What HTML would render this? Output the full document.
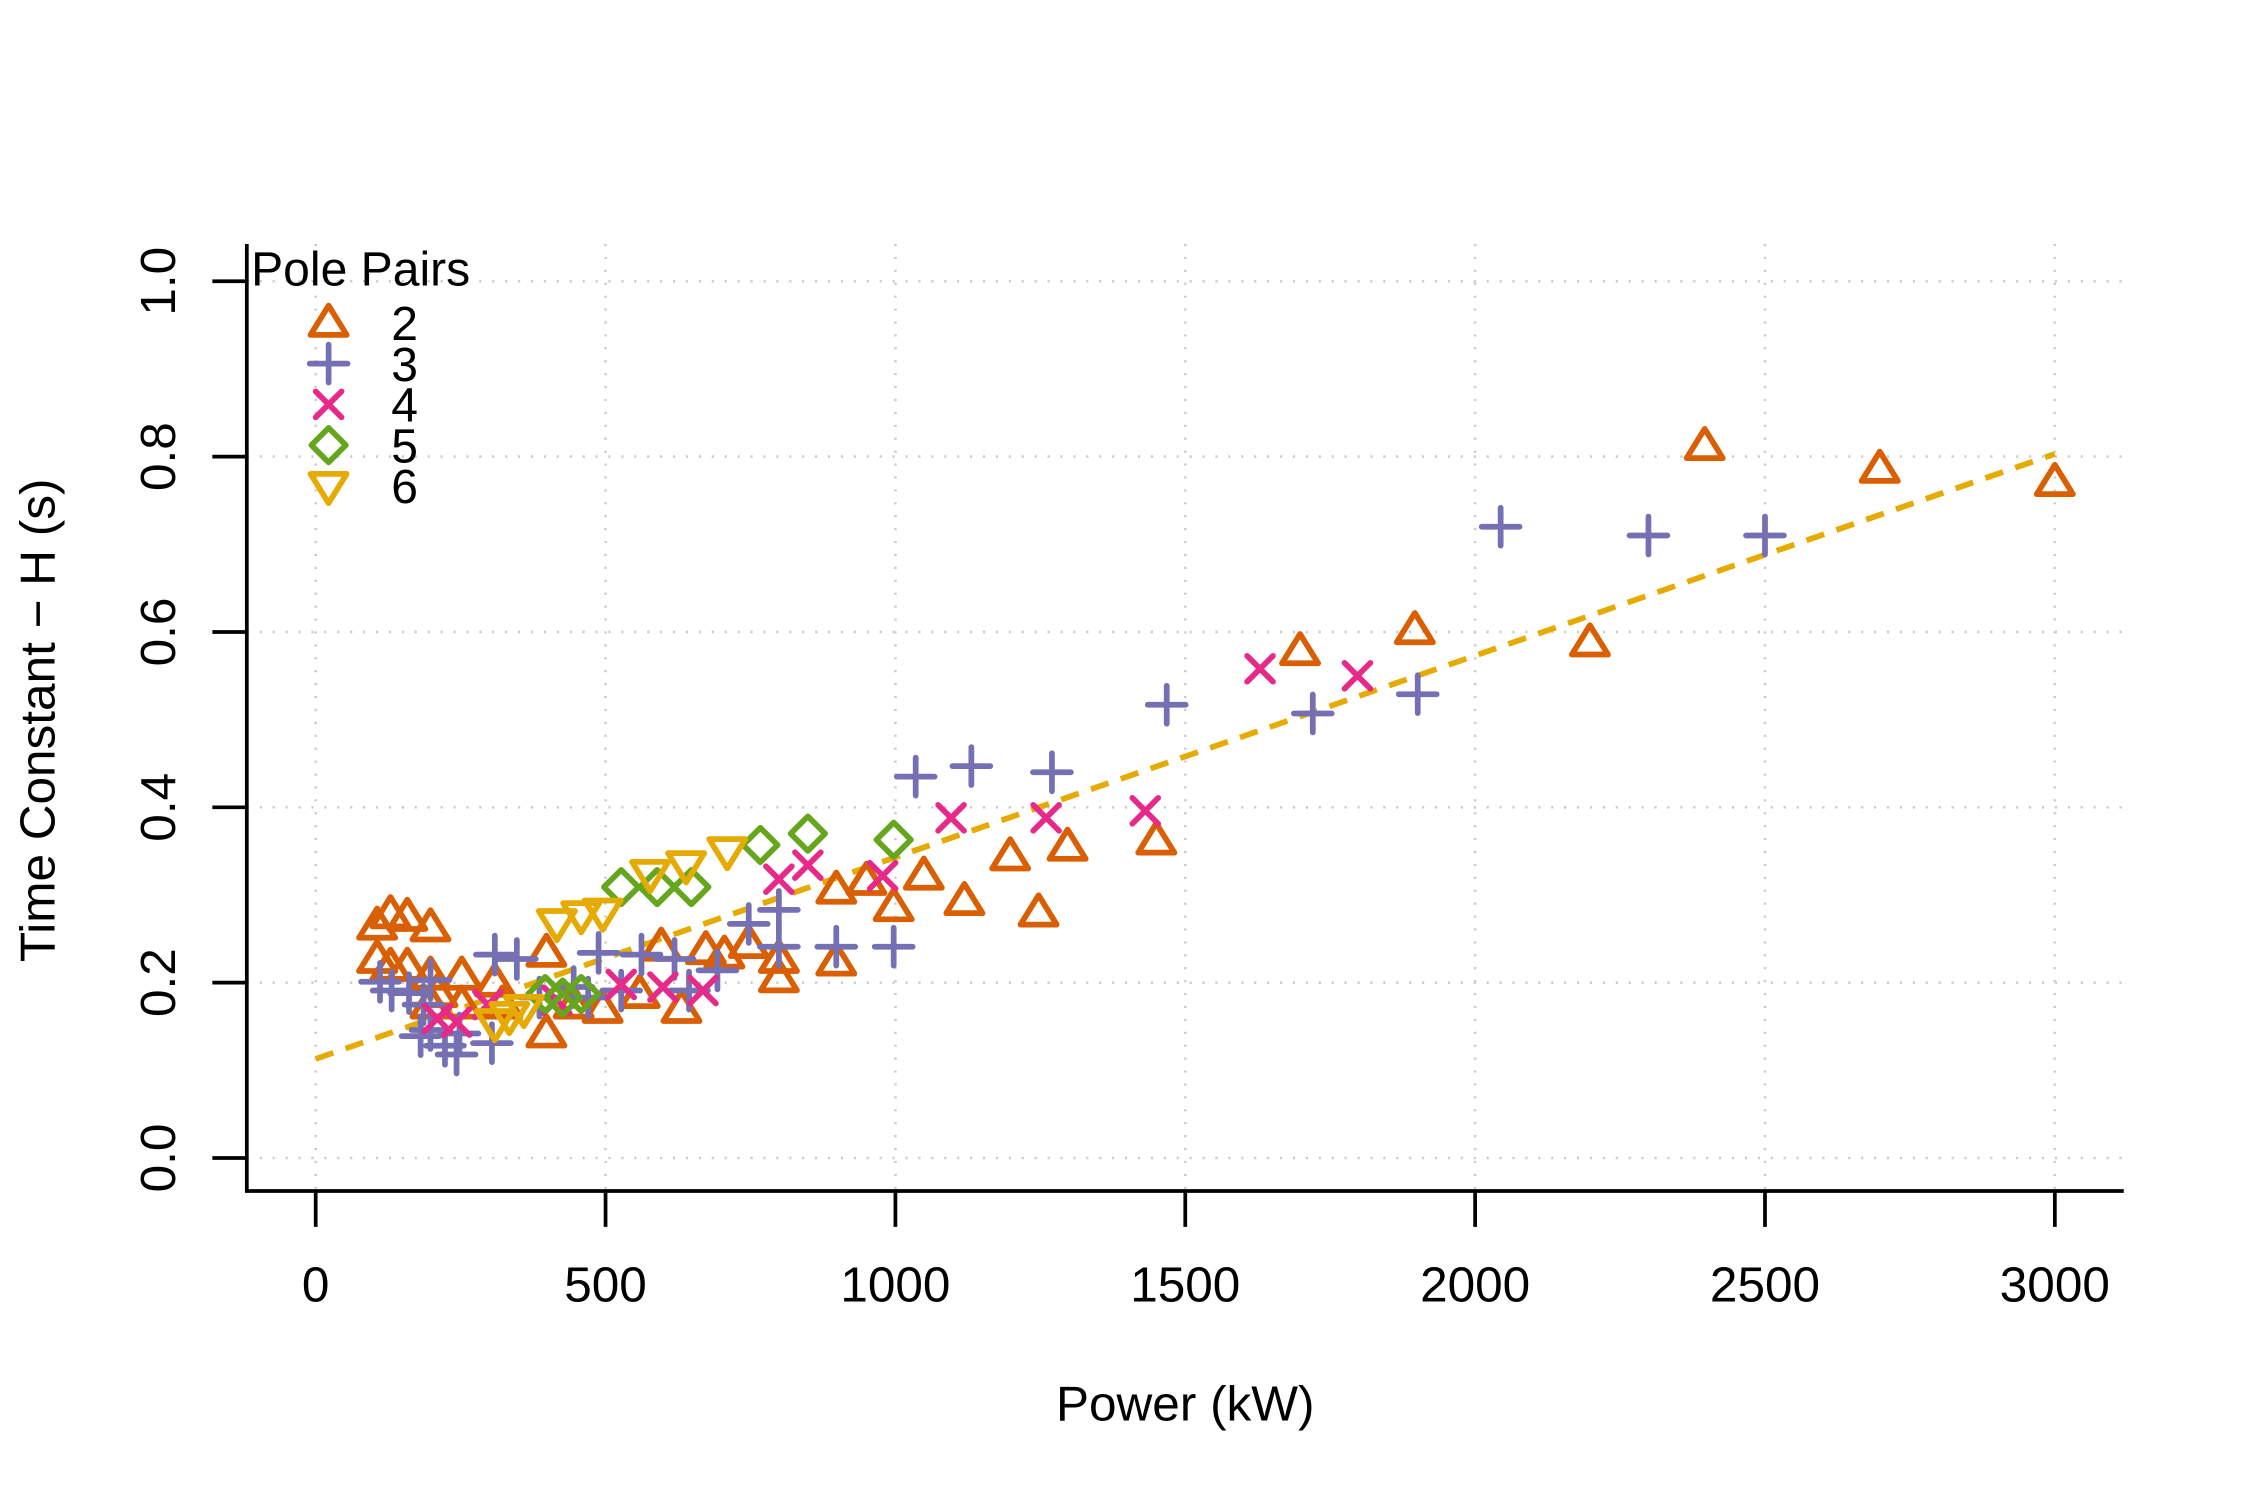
<!DOCTYPE html>
<html><head><meta charset="utf-8"><style>
html,body{margin:0;padding:0;background:#fff;}
svg{display:block;font-family:"Liberation Sans",Arial,sans-serif;}
</style></head><body>
<svg id="chart" width="2250" height="1500" viewBox="0 0 1568 1045.33" xmlns="http://www.w3.org/2000/svg">
<rect width="1568" height="1045.33" fill="#fff"/>
<g id="grid"></g>
<g id="axes"></g>
<g id="trend"></g>
<g id="points"></g>
<g id="legend"></g>
<text x="826" y="990" font-size="34.5" text-anchor="middle">Power (kW)</text>
<text transform="translate(38,502) rotate(-90)" font-size="34.5" text-anchor="middle">Time Constant − H (s)</text>
</svg>
<script>
const xTicks = [0,500,1000,1500,2000,2500,3000];
const yTicks = [0.0,0.2,0.4,0.6,0.8,1.0];
const yTickLabels = ["0.0","0.2","0.4","0.6","0.8","1.0"];
const seriesNames = ["2","3","4","5","6"];
const p2x = [106,129,158,198,106,129,158,198,252,210,198,252,309,322,398,398,445,495,559,596,631,673,705,747,799,799,898,898,950,997,1049,1119,1198,1247,1297,1450,1698,1896,2198,2396,2698,3000];
const p2y = [.265,.278,.275,.263,.227,.218,.218,.208,.208,.188,.175,.175,.200,.175,.234,.142,.175,.170,.187,.241,.170,.237,.232,.244,.227,.205,.306,.224,.316,.286,.322,.293,.344,.280,.355,.362,.578,.602,.588,.812,.786,.771];
const p3x = [111,131,161,186,198,181,223,243,304,309,347,386,445,488,527,562,619,693,747,799,799,898,997,1035,1131,1270,1468,1720,1901,2044,2299,2500,198,248,644,470];
const p3y = [.201,.191,.188,.175,.203,.139,.128,.118,.131,.232,.227,.183,.195,.234,.191,.232,.227,.214,.267,.283,.241,.241,.241,.435,.447,.440,.517,.507,.529,.720,.710,.710,.146,.142,.191,.183];
const p4x = [210,243,297,416,527,599,668,799,849,978,1096,1260,1431,1629,1797];
const p4y = [.159,.155,.175,.180,.198,.195,.191,.318,.334,.322,.388,.388,.396,.558,.550];
const p5x = [396,426,458,527,589,648,767,849,997];
const p5y = [.187,.183,.187,.309,.309,.309,.357,.370,.363];
const p6x = [309,334,359,416,458,495,577,639,710];
const p6y = [.154,.162,.170,.268,.277,.280,.324,.334,.350];
const trendX = [0,3000];
const trendY = [0.113,0.803];

const NS="http://www.w3.org/2000/svg";
const X = v => 220 + v*(1212/3000);
const Y = v => 807 - v*611;
function mk(tag, attrs, parent){const e=document.createElementNS(NS,tag);for(const k in attrs)e.setAttribute(k,attrs[k]);parent.appendChild(e);return e;}
const grid=document.getElementById('grid'), axes=document.getElementById('axes'), pts=document.getElementById('points'), leg=document.getElementById('legend'), tr=document.getElementById('trend');
const gs={stroke:"#cccccc","stroke-width":1.8,"stroke-dasharray":"1.5 7.5"};
xTicks.forEach(t=>{
  const l=mk('line',Object.assign({x1:X(t),x2:X(t),y1:170,y2:830},gs),grid);
   
  const tk=mk('line',{x1:X(t),x2:X(t),y1:830,y2:855,stroke:"#000","stroke-width":2.6},axes);
   
  const tx=mk('text',{x:X(t),y:907,"font-size":34.5,"text-anchor":"middle"},axes); tx.textContent=t;
   
});
yTicks.forEach((t,i)=>{
  const l=mk('line',Object.assign({x1:172,x2:1480,y1:Y(t),y2:Y(t)},gs),grid);
   
  const tk=mk('line',{x1:148,x2:172,y1:Y(t),y2:Y(t),stroke:"#000","stroke-width":2.6},axes);
   
  const tx=mk('text',{transform:`translate(122,${Y(t)}) rotate(-90)`,"font-size":34.5,"text-anchor":"middle"},axes); tx.textContent=yTickLabels[i];
   
});
const ax=mk('path',{d:"M172,170 L172,830 L1480,830",fill:"none",stroke:"#000","stroke-width":2.6},axes);
 
const tl=mk('line',{x1:X(trendX[0]),y1:Y(trendY[0]),x2:X(trendX[1]),y2:Y(trendY[1]),stroke:"#E6AB02","stroke-width":4,"stroke-dasharray":"13 9"},tr);
 

const colors=["#D95F02","#7570B3","#E7298A","#66A61E","#E6AB02"];
function marker(type,cx,cy,parent){
  const c=colors[type], s=12, a={fill:"none",stroke:c,"stroke-width":4,"stroke-linejoin":"round","stroke-linecap":"round"};
  let d;
  if(type===0) d=`M${cx},${cy-s} L${cx+s*1.05},${cy+s*0.7} L${cx-s*1.05},${cy+s*0.7}Z`;
  else if(type===1) d=`M${cx-s*1.1},${cy} H${cx+s*1.1} M${cx},${cy-s*1.1} V${cy+s*1.1}`;
  else if(type===2) d=`M${cx-s*0.75},${cy-s*0.75} L${cx+s*0.75},${cy+s*0.75} M${cx-s*0.75},${cy+s*0.75} L${cx+s*0.75},${cy-s*0.75}`;
  else if(type===3) d=`M${cx},${cy-s} L${cx+s},${cy} L${cx},${cy+s} L${cx-s},${cy}Z`;
  else d=`M${cx},${cy+s} L${cx+s*1.05},${cy-s*0.7} L${cx-s*1.05},${cy-s*0.7}Z`;
  a.d=d; return mk('path',a,parent);
}
const allX=[p2x,p3x,p4x,p5x,p6x], allY=[p2y,p3y,p4y,p5y,p6y];
allX.forEach((xs,k)=>{
  xs.forEach((v,i)=>{
    const m=marker(k,X(v),Y(allY[k][i]),pts);
    
    
  });
});
const lt=mk('text',{x:175,y:199,"font-size":33.5},leg); lt.textContent="Pole Pairs";
 
seriesNames.forEach((n,k)=>{
  const cy=225+k*28.4;
  const m=marker(k,229,cy,leg);
   
  const t=mk('text',{x:282,y:cy+12,"font-size":33.5,"text-anchor":"middle"},leg); t.textContent=n;
   
});
</script>
</body></html>
